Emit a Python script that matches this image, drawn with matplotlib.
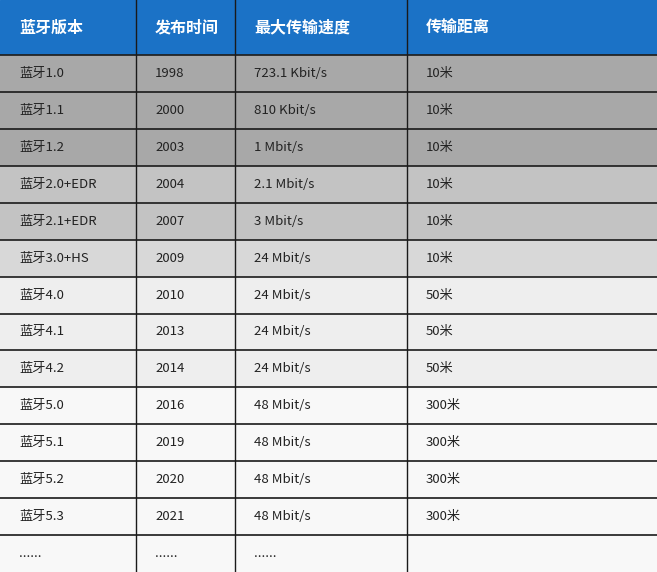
import matplotlib
matplotlib.use('Agg')
import matplotlib.pyplot as plt
from matplotlib.patches import Rectangle

plt.rcParams['font.family'] = ['Noto Sans CJK SC', 'DejaVu Sans']

# --- DATA ---
headers = ["蓝牙版本", "发布时间", "最大传输速度", "传输距离"]
versions = ["蓝牙1.0", "蓝牙1.1", "蓝牙1.2", "蓝牙2.0+EDR", "蓝牙2.1+EDR", "蓝牙3.0+HS",
            "蓝牙4.0", "蓝牙4.1", "蓝牙4.2", "蓝牙5.0", "蓝牙5.1", "蓝牙5.2", "蓝牙5.3", "......"]
years = ["1998", "2000", "2003", "2004", "2007", "2009", "2010", "2013", "2014",
         "2016", "2019", "2020", "2021", "......"]
speeds = ["723.1 Kbit/s", "810 Kbit/s", "1 Mbit/s", "2.1 Mbit/s", "3 Mbit/s", "24 Mbit/s",
          "24 Mbit/s", "24 Mbit/s", "24 Mbit/s", "48 Mbit/s", "48 Mbit/s", "48 Mbit/s",
          "48 Mbit/s", "......"]
ranges = ["10米", "10米", "10米", "10米", "10米", "10米", "50米", "50米", "50米",
          "300米", "300米", "300米", "300米", ""]

# --- LAYOUT (pixels) ---
W, H = 657, 572
col_x = [0, 136, 235, 407, 657]
header_h = 55
row_h = (H - header_h) / len(versions)
row_colors = (["#a8a8a8"] * 3 + ["#c3c3c3"] * 2 + ["#d8d8d8"] + ["#eeeeee"] * 3
              + ["#f8f8f8"] * 5)

fig = plt.figure(figsize=(W / 100, H / 100), dpi=100)
ax = fig.add_axes([0, 0, 1, 1])
ax.set_xlim(0, W)
ax.set_ylim(H, 0)
ax.axis('off')

# header
ax.add_patch(Rectangle((0, 0), W, header_h, color="#1b72c6"))
for j, h in enumerate(headers):
    ax.text(col_x[j] + 19, header_h / 2, h, color="white", fontsize=11.5,
            fontweight='bold', va='center', ha='left')

columns = [versions, years, speeds, ranges]
for i in range(len(versions)):
    y0 = header_h + i * row_h
    ax.add_patch(Rectangle((0, y0), W, row_h, color=row_colors[i]))
    for j, col in enumerate(columns):
        ax.text(col_x[j] + 19, y0 + row_h / 2, col[i], color="#222222", fontsize=9.5,
                va='center', ha='left')
    ax.plot([0, W], [y0, y0], color="#1a1a1a", lw=1.2)

for x in col_x[1:-1]:
    ax.plot([x, x], [0, H], color="#1a1a1a", lw=1.0)

fig.savefig("out.png", dpi=100)
